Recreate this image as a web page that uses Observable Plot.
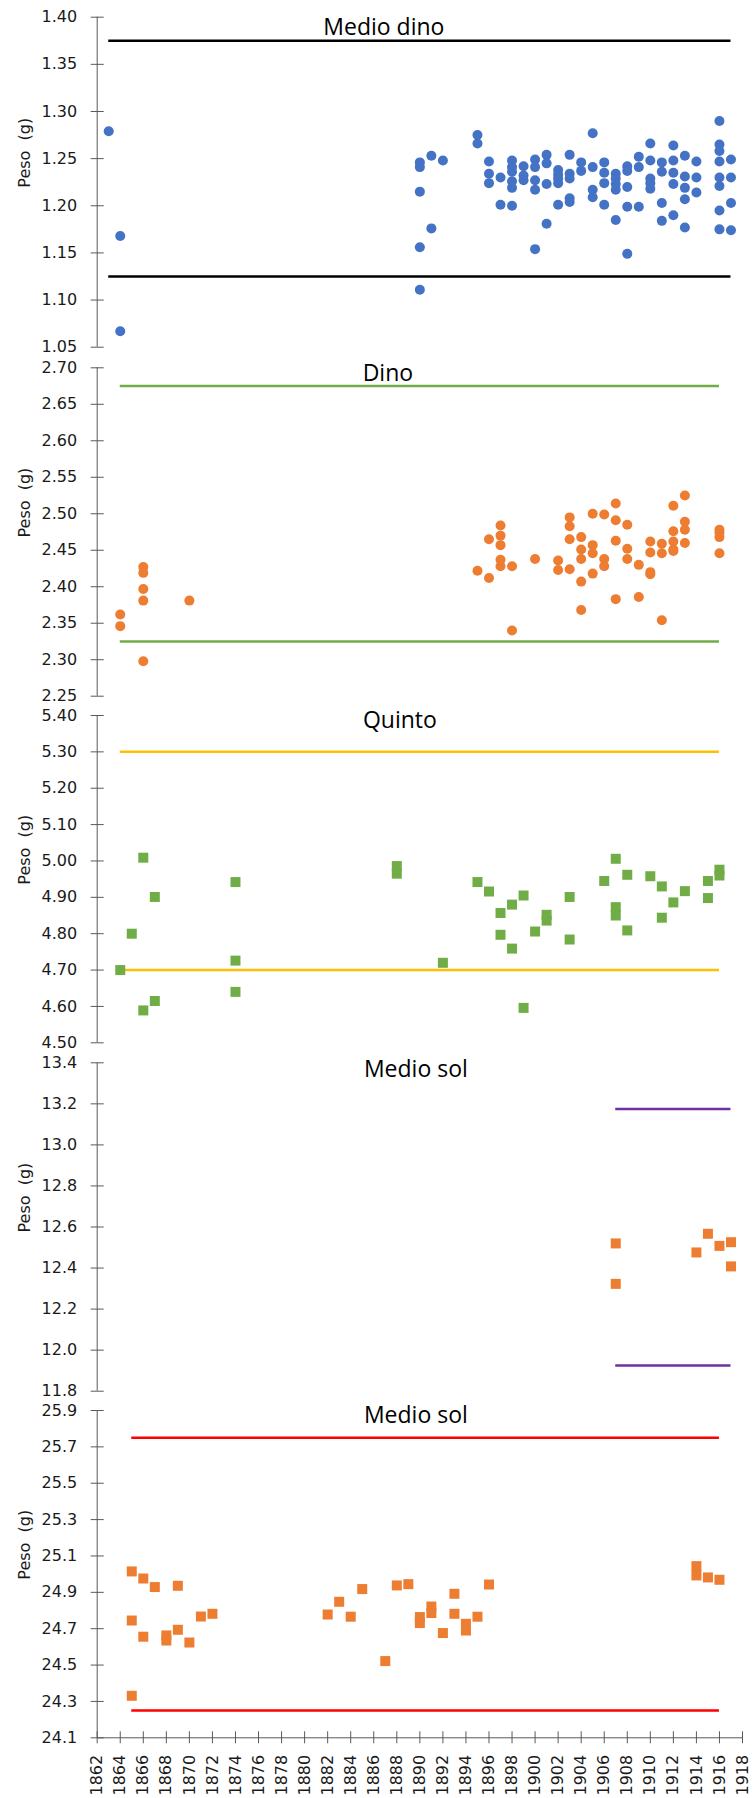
<!DOCTYPE html>
<html>
<head>
<meta charset="utf-8">
<script src="https://cdn.jsdelivr.net/npm/d3@7"></script>
<script src="https://cdn.jsdelivr.net/npm/@observablehq/plot@0.6"></script>
<style>
  html, body { margin: 0; padding: 0; background: #fff; }
  #chart { position: relative; width: 753px; height: 1798px; overflow: hidden; }
  #chart svg { position: absolute; left: 0; overflow: visible; }
  svg text { white-space: pre; }
</style>
</head>
<body>
<div id="chart"></div>
<script>
// ---------- data ----------
const yearTicks = d3.range(1862, 1919, 2);

const medioDinoTicks = [1.05, 1.10, 1.15, 1.20, 1.25, 1.30, 1.35, 1.40];
const dinoTicks = [2.25, 2.30, 2.35, 2.40, 2.45, 2.50, 2.55, 2.60, 2.65, 2.70];
const quintoTicks = [4.50, 4.60, 4.70, 4.80, 4.90, 5.00, 5.10, 5.20, 5.30, 5.40];
const medioSolTicks = [11.8, 12.0, 12.2, 12.4, 12.6, 12.8, 13.0, 13.2, 13.4];
const solTicks = [24.1, 24.3, 24.5, 24.7, 24.9, 25.1, 25.3, 25.5, 25.7, 25.9];

const medioDinoLimits = [1.125, 1.375];
const dinoLimits = [2.325, 2.675];
const quintoLimits = [4.70, 5.30];
const medioSolLimits = [11.925, 13.175];
const solLimits = [24.25, 25.75];

const medioDinoSpan = [1863, 1917];
const dinoSpan = [1864, 1916];
const quintoSpan = [1864, 1916];
const medioSolSpan = [1907, 1917];
const solSpan = [1865, 1916];

const medioDino = [
  [1863,1.279],[1864,1.168],[1864,1.067],
  [1890,1.246],[1890,1.241],[1890,1.215],[1890,1.156],[1890,1.111],
  [1891,1.253],[1891,1.176],[1892,1.248],
  [1895,1.275],[1895,1.266],
  [1896,1.247],[1896,1.234],[1896,1.224],
  [1897,1.230],[1897,1.201],
  [1898,1.248],[1898,1.241],[1898,1.236],[1898,1.226],[1898,1.219],[1898,1.200],
  [1899,1.242],[1899,1.232],[1899,1.227],
  [1900,1.249],[1900,1.241],[1900,1.227],[1900,1.217],[1900,1.154],
  [1901,1.254],[1901,1.245],[1901,1.223],[1901,1.181],
  [1902,1.238],[1902,1.233],[1902,1.229],[1902,1.224],[1902,1.201],
  [1903,1.254],[1903,1.234],[1903,1.229],[1903,1.208],[1903,1.204],
  [1904,1.246],[1904,1.237],
  [1905,1.277],[1905,1.241],[1905,1.217],[1905,1.209],
  [1906,1.246],[1906,1.235],[1906,1.224],[1906,1.201],
  [1907,1.234],[1907,1.229],[1907,1.223],[1907,1.217],[1907,1.185],
  [1908,1.242],[1908,1.237],[1908,1.220],[1908,1.199],[1908,1.149],
  [1909,1.252],[1909,1.241],[1909,1.199],
  [1910,1.266],[1910,1.248],[1910,1.229],[1910,1.224],[1910,1.218],
  [1911,1.246],[1911,1.236],[1911,1.203],[1911,1.184],
  [1912,1.264],[1912,1.248],[1912,1.235],[1912,1.223],[1912,1.190],
  [1913,1.253],[1913,1.231],[1913,1.219],[1913,1.207],[1913,1.177],
  [1914,1.247],[1914,1.230],[1914,1.214],
  [1916,1.290],[1916,1.265],[1916,1.258],[1916,1.247],[1916,1.230],[1916,1.221],[1916,1.195],[1916,1.175],
  [1917,1.249],[1917,1.230],[1917,1.203],[1917,1.174]
];

const dino = [
  [1864,2.362],[1864,2.346],
  [1866,2.427],[1866,2.419],[1866,2.397],[1866,2.381],[1866,2.298],
  [1870,2.381],
  [1895,2.422],
  [1896,2.465],[1896,2.412],
  [1897,2.484],[1897,2.470],[1897,2.457],[1897,2.437],[1897,2.428],
  [1898,2.428],[1898,2.340],
  [1900,2.438],
  [1902,2.436],[1902,2.423],
  [1903,2.495],[1903,2.483],[1903,2.465],[1903,2.424],
  [1904,2.468],[1904,2.451],[1904,2.438],[1904,2.407],[1904,2.368],
  [1905,2.500],[1905,2.457],[1905,2.446],[1905,2.418],
  [1906,2.499],[1906,2.438],[1906,2.428],
  [1907,2.514],[1907,2.491],[1907,2.463],[1907,2.383],
  [1908,2.485],[1908,2.452],[1908,2.438],
  [1909,2.430],[1909,2.386],
  [1910,2.462],[1910,2.447],[1910,2.420],[1910,2.417],
  [1911,2.459],[1911,2.446],[1911,2.354],
  [1912,2.511],[1912,2.476],[1912,2.462],[1912,2.451],[1912,2.449],
  [1913,2.525],[1913,2.489],[1913,2.478],[1913,2.460],
  [1916,2.478],[1916,2.474],[1916,2.468],[1916,2.446]
];

const quinto = [
  [1864,4.700],[1865,4.800],
  [1866,5.009],[1866,4.589],
  [1867,4.901],[1867,4.615],
  [1874,4.942],[1874,4.726],[1874,4.640],
  [1888,4.986],[1888,4.965],
  [1892,4.720],
  [1895,4.942],[1896,4.916],
  [1897,4.857],[1897,4.797],
  [1898,4.880],[1898,4.759],
  [1899,4.905],[1899,4.596],
  [1900,4.806],
  [1901,4.852],[1901,4.836],
  [1903,4.901],[1903,4.784],
  [1906,4.945],
  [1907,5.006],[1907,4.873],[1907,4.850],
  [1908,4.962],[1908,4.809],
  [1910,4.958],
  [1911,4.930],[1911,4.844],
  [1912,4.886],[1913,4.917],
  [1915,4.945],[1915,4.898],
  [1916,4.976],[1916,4.960]
];

const medioSol = [
  [1907,12.520],[1907,12.323],
  [1914,12.476],[1915,12.567],[1916,12.508],
  [1917,12.526],[1917,12.408]
];

const sol = [
  [1865,25.015],[1865,24.745],[1865,24.331],
  [1866,24.976],[1866,24.656],
  [1867,24.929],
  [1868,24.663],[1868,24.635],
  [1869,24.936],[1869,24.694],
  [1870,24.624],[1871,24.767],[1872,24.782],
  [1882,24.778],[1883,24.848],[1884,24.766],[1885,24.918],
  [1887,24.522],[1888,24.938],[1889,24.945],
  [1890,24.764],[1890,24.731],
  [1891,24.822],[1891,24.786],
  [1892,24.676],
  [1893,24.892],[1893,24.782],
  [1894,24.727],[1894,24.690],
  [1895,24.766],[1896,24.943],
  [1914,25.044],[1914,24.993],
  [1915,24.982],[1916,24.969]
];

// ---------- drawing ----------
const AXIS = "#595959";
const TEXT = "#1a1a1a";
const TICKFONT = "DejaVu Sans";
const TITLEFONT = "Open Sans";

function panel(o) {
  const marks = [
    Plot.ruleY(o.limits, {x1: o.span[0], x2: o.span[1], stroke: o.limitColor, strokeWidth: 2.5}),
    Plot.ruleX([1862], {stroke: AXIS, strokeWidth: 1}),
    Plot.ruleY(o.ticks, {x1: 1862, x2: 1862, insetLeft: -6, insetRight: -7, stroke: AXIS, strokeWidth: 1}),
    Plot.axisY(o.ticks, {tickSize: 0, tickPadding: 20, tickFormat: d3.format(o.fmt), fontSize: 16,
      fontFamily: TICKFONT, color: TEXT, label: null}),
    Plot.dot(o.data, {x: d => d[0], y: d => d[1], r: o.r, symbol: o.symbol, fill: o.color, stroke: null}),
    Plot.text([o.title], {frameAnchor: "top", dx: o.titleDx, dy: o.titleDy, lineAnchor: "middle",
      fontSize: 23, fontFamily: TITLEFONT, fill: "#000"}),
    Plot.text(["Peso  (g)"], {frameAnchor: "left", rotate: -90, dx: -72.7, dy: 5.5, lineAnchor: "middle",
      fontSize: 16, fontFamily: TICKFONT, fill: TEXT})
  ];
  if (o.xAxis) {
    marks.push(
      Plot.ruleY([o.ticks[0]], {stroke: AXIS, strokeWidth: 1}),
      Plot.ruleX(yearTicks, {y1: o.ticks[0], y2: o.ticks[0], insetTop: -6, insetBottom: -6, stroke: AXIS, strokeWidth: 1}),
      Plot.axisX(yearTicks, {tickSize: 0, tickPadding: 17, tickRotate: -90, tickFormat: d => String(d),
        fontSize: 16, fontFamily: TICKFONT, color: TEXT, label: null})
    );
  }
  const svg = Plot.plot({
    width: 753,
    height: o.height,
    marginLeft: 96.7,
    marginRight: 11,
    marginTop: o.mt,
    marginBottom: o.mb,
    x: {domain: [1862, 1918], axis: null},
    y: {domain: [o.ticks[0], o.ticks[o.ticks.length - 1]], axis: null},
    style: {background: "transparent", overflow: "visible"},
    marks
  });
  svg.style.top = o.top + "px";
  document.getElementById("chart").appendChild(svg);
}

panel({data: medioDino, color: "#4472C4", symbol: "circle", r: 5, ticks: medioDinoTicks, fmt: ".2f",
  limits: medioDinoLimits, span: medioDinoSpan, limitColor: "#000000", title: "Medio dino",
  titleDx: -36, titleDy: 10.6, top: 0, height: 357, mt: 16.7, mb: 10.3});

panel({data: dino, color: "#ED7D31", symbol: "circle", r: 5, ticks: dinoTicks, fmt: ".2f",
  limits: dinoLimits, span: dinoSpan, limitColor: "#70AD47", title: "Dino",
  titleDx: -32, titleDy: 5.7, top: 357, height: 348, mt: 10.3, mb: 9.3});

panel({data: quinto, color: "#70AD47", symbol: "square", r: 5.64, ticks: quintoTicks, fmt: ".2f",
  limits: quintoLimits, span: quintoSpan, limitColor: "#FFC000", title: "Quinto",
  titleDx: -20, titleDy: 5.3, top: 705, height: 347, mt: 10, mb: 9.7});

panel({data: medioSol, color: "#ED7D31", symbol: "square", r: 5.64, ticks: medioSolTicks, fmt: ".1f",
  limits: medioSolLimits, span: medioSolSpan, limitColor: "#7030A0", title: "Medio sol",
  titleDx: -4, titleDy: 6.4, top: 1052, height: 348, mt: 10.3, mb: 9.3});

panel({data: sol, color: "#ED7D31", symbol: "square", r: 5.64, ticks: solTicks, fmt: ".1f",
  limits: solLimits, span: solSpan, limitColor: "#FF0000", title: "Medio sol",
  titleDx: -4, titleDy: 5.3, top: 1400, height: 398, mt: 10, mb: 60.7, xAxis: true});
</script>
</body>
</html>
